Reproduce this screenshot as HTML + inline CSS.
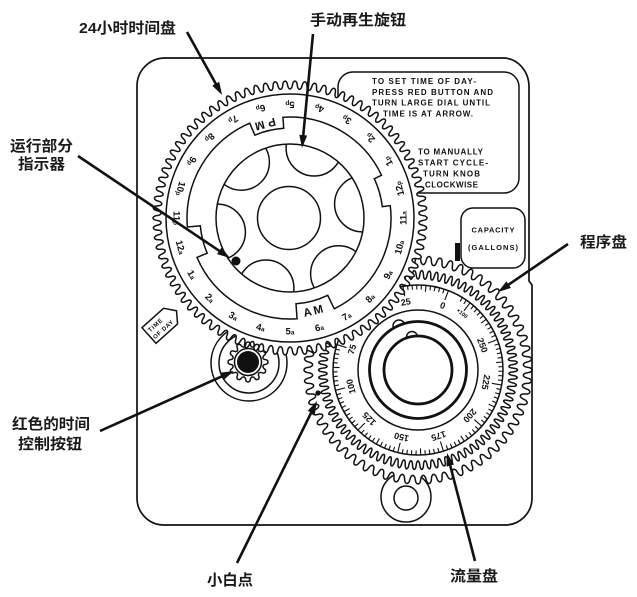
<!DOCTYPE html>
<html><head><meta charset="utf-8">
<style>
html,body{margin:0;padding:0;background:#fff;}
svg{display:block;}
.l{fill:none;stroke:#111;stroke-width:1.5;}
.lab{font-family:"Liberation Sans","Noto Sans CJK SC",sans-serif;font-weight:bold;font-size:15px;fill:#1a1a1a;}
.n{font-family:"Liberation Sans",sans-serif;font-weight:bold;font-size:9.5px;fill:#111;}
.f{font-family:"Liberation Sans",sans-serif;font-weight:bold;font-size:9px;fill:#111;}
.bx{font-family:"Liberation Sans",sans-serif;font-weight:bold;font-size:8px;fill:#111;}
</style></head><body>
<svg id="s" width="637" height="597" viewBox="0 0 637 597" xmlns="http://www.w3.org/2000/svg">
<defs>
<marker id="ah" viewBox="0 0 13 8" refX="9" refY="4" markerWidth="13" markerHeight="8" markerUnits="userSpaceOnUse" orient="auto"><path d="M0,0 L13,4 L0,8 Z" fill="#111"/></marker>
<clipPath id="kc"><circle cx="290" cy="218" r="74"/></clipPath>
</defs>
<rect width="637" height="597" fill="#fff"/>

<!-- instruction box -->
<rect x="338" y="72" width="181" height="121" rx="15" class="l"/>
<g class="bx">
<text x="372" y="84" textLength="104">TO SET TIME OF DAY-</text>
<text x="372" y="95" textLength="121">PRESS RED BUTTON AND</text>
<text x="372" y="105.5" textLength="118">TURN LARGE DIAL UNTIL</text>
<text x="383" y="116.5" textLength="90">TIME IS AT ARROW.</text>
<text x="418" y="154.5" textLength="65">TO MANUALLY</text>
<text x="418" y="165.5" textLength="70">START CYCLE-</text>
<text x="423" y="176.5" textLength="57">TURN KNOB</text>
<text x="425" y="187.5" textLength="53">CLOCKWISE</text>
</g>

<!-- red button housing arcs -->
<circle cx="249" cy="363" r="38" class="l"/>
<circle cx="249" cy="363" r="30" class="l"/>

<!-- bottom knob -->
<circle cx="406" cy="497" r="25" class="l"/>
<circle cx="406" cy="498" r="12" class="l"/>

<!-- program / flow gear -->
<path id="pg" class="l" style="fill:#fff"/>
<path id="pg2" class="l"/>
<circle cx="418" cy="370" r="85" class="l"/>
<path id="tk" stroke="#111" stroke-width="1.1" fill="none"/>
<g class="f" text-anchor="middle">
<text x="418" y="304" transform="rotate(21 418 370)">0</text>
<text x="418" y="304" transform="rotate(-10.2 418 370)">25</text>
<text x="418" y="304" transform="rotate(-72.6 418 370)">75</text>
<text x="418" y="304" transform="rotate(-103.8 418 370)">100</text>
<text x="418" y="304" transform="rotate(-135 418 370)">125</text>
<text x="418" y="304" transform="rotate(-166.2 418 370)">150</text>
<text x="418" y="304" transform="rotate(-197.4 418 370)">175</text>
<text x="418" y="304" transform="rotate(-228.6 418 370)">200</text>
<text x="418" y="304" transform="rotate(-259.8 418 370)">225</text>
<text x="418" y="304" transform="rotate(-291 418 370)">250</text>
<text x="418" y="300" transform="rotate(38 418 370)" style="font-size:5.5px">×100</text>
</g>
<circle cx="418" cy="370" r="60" class="l"/>
<circle cx="399" cy="326" r="6" class="l" style="fill:#fff"/>
<circle cx="418" cy="370" r="48.5" fill="#fff" stroke="#111" stroke-width="2.8"/>
<circle cx="412" cy="337" r="5.5" class="l" style="fill:#fff"/>
<circle cx="418" cy="370" r="34" fill="#fff" stroke="#111" stroke-width="2.8"/>

<!-- capacity box -->
<rect x="461" y="208" width="64" height="60" rx="12" fill="#fff" stroke="#111" stroke-width="1.5"/>
<text class="bx" x="493" y="232.5" text-anchor="middle" textLength="43" style="font-size:7.5px">CAPACITY</text>
<text class="bx" x="493" y="250" text-anchor="middle" textLength="50" style="font-size:7.5px">(GALLONS)</text>
<rect x="455" y="243" width="5" height="18" fill="#111"/>

<!-- big 24h gear -->
<path id="bg" class="l" style="fill:#fff"/>
<circle cx="290" cy="218" r="124" class="l"/>
<g class="n" text-anchor="middle">
<text x="290" y="334.5" transform="rotate(75 290 218)">12<tspan font-size="6.5">a</tspan></text>
<text x="290" y="334.5" transform="rotate(60 290 218)">1<tspan font-size="6.5">a</tspan></text>
<text x="290" y="334.5" transform="rotate(45 290 218)">2<tspan font-size="6.5">a</tspan></text>
<text x="290" y="334.5" transform="rotate(30 290 218)">3<tspan font-size="6.5">a</tspan></text>
<text x="290" y="334.5" transform="rotate(15 290 218)">4<tspan font-size="6.5">a</tspan></text>
<text x="290" y="334.5" transform="rotate(0 290 218)">5<tspan font-size="6.5">a</tspan></text>
<text x="290" y="334.5" transform="rotate(-15 290 218)">6<tspan font-size="6.5">a</tspan></text>
<text x="290" y="334.5" transform="rotate(-30 290 218)">7<tspan font-size="6.5">a</tspan></text>
<text x="290" y="334.5" transform="rotate(-45 290 218)">8<tspan font-size="6.5">a</tspan></text>
<text x="290" y="334.5" transform="rotate(-60 290 218)">9<tspan font-size="6.5">a</tspan></text>
<text x="290" y="334.5" transform="rotate(-75 290 218)">10<tspan font-size="6.5">a</tspan></text>
<text x="290" y="334.5" transform="rotate(-90 290 218)">11<tspan font-size="6.5">a</tspan></text>
<text x="290" y="334.5" transform="rotate(-105 290 218)">12<tspan font-size="6.5">p</tspan></text>
<text x="290" y="334.5" transform="rotate(-120 290 218)">1<tspan font-size="6.5">p</tspan></text>
<text x="290" y="334.5" transform="rotate(-135 290 218)">2<tspan font-size="6.5">p</tspan></text>
<text x="290" y="334.5" transform="rotate(-150 290 218)">3<tspan font-size="6.5">p</tspan></text>
<text x="290" y="334.5" transform="rotate(-165 290 218)">4<tspan font-size="6.5">p</tspan></text>
<text x="290" y="334.5" transform="rotate(-180 290 218)">5<tspan font-size="6.5">p</tspan></text>
<text x="290" y="334.5" transform="rotate(-195 290 218)">6<tspan font-size="6.5">p</tspan></text>
<text x="290" y="334.5" transform="rotate(-210 290 218)">7<tspan font-size="6.5">p</tspan></text>
<text x="290" y="334.5" transform="rotate(-225 290 218)">8<tspan font-size="6.5">p</tspan></text>
<text x="290" y="334.5" transform="rotate(-240 290 218)">9<tspan font-size="6.5">p</tspan></text>
<text x="290" y="334.5" transform="rotate(-255 290 218)">10<tspan font-size="6.5">p</tspan></text>
<text x="290" y="334.5" transform="rotate(-270 290 218)">11<tspan font-size="6.5">p</tspan></text>
<text x="290" y="317.5" transform="rotate(-14 290 218)" style="font-size:11.5px" textLength="20">AM</text>
<text x="290" y="319" transform="rotate(-194.7 290 218)" style="font-size:11.5px" textLength="21">PM</text>
</g>
<path id="ct" class="l"/>
<circle cx="290" cy="218" r="74" class="l"/>
<g clip-path="url(#kc)">
<circle cx="314.1" cy="148" r="28" class="l"/>
<circle cx="362.6" cy="203.9" r="28" class="l"/>
<circle cx="338.6" cy="273.8" r="28" class="l"/>
<circle cx="265.9" cy="288" r="28" class="l"/>
<circle cx="217.4" cy="232.1" r="28" class="l"/>
<circle cx="241.4" cy="162.2" r="28" class="l"/>
</g>
<circle cx="289" cy="218" r="31.5" class="l"/>
<circle cx="236" cy="261" r="4.5" fill="#111"/>

<!-- red button small gear -->
<path id="sg" class="l"/>
<circle cx="248" cy="362" r="13.5" class="l"/>
<circle cx="248" cy="362" r="11" fill="#111"/>

<!-- small white dot -->
<circle cx="318" cy="393" r="2.6" fill="#111"/>

<!-- time of day tag -->
<g transform="translate(149 335.5) rotate(-42)">
<polygon points="0,-10.5 29,-10.5 37,0 29,10.5 0,10.5" fill="#fff" stroke="#111" stroke-width="1.5"/>
<text x="3" y="-1.5" class="bx" style="font-size:6px" textLength="17">TIME</text>
<text x="2" y="7" class="bx" style="font-size:6px" textLength="25">OF DAY</text>
</g>

<!-- panel -->
<path d="M165,58 H503 A26,29 0 0 1 529,87 V281 L532,285 V498 A27,27 0 0 1 505,525 H164 A27,27 0 0 1 137,498 V86 A28,28 0 0 1 165,58 Z" fill="none" stroke="#111" stroke-width="1.7"/>

<!-- arrows -->
<g stroke="#111" stroke-width="2.6" marker-end="url(#ah)" fill="none">
<line x1="187" y1="32" x2="220.1" y2="91.5"/>
<line x1="313" y1="34" x2="302.4" y2="144"/>
<line x1="78" y1="156" x2="226.7" y2="255.8"/>
<line x1="568" y1="244" x2="501.3" y2="289.7"/>
<line x1="100" y1="431" x2="230.3" y2="372.6"/>
<line x1="237" y1="563" x2="315.2" y2="404.6"/>
<line x1="475" y1="561" x2="448" y2="456.9"/>
</g>

<!-- labels -->
<text class="lab" x="79" y="33" textLength="97" lengthAdjust="spacingAndGlyphs">24小时时间盘</text>
<text class="lab" x="310" y="25" textLength="96" lengthAdjust="spacingAndGlyphs">手动再生旋钮</text>
<text class="lab" x="10" y="151" textLength="63" lengthAdjust="spacingAndGlyphs">运行部分</text>
<text class="lab" x="18" y="169" textLength="47" lengthAdjust="spacingAndGlyphs">指示器</text>
<text class="lab" x="580" y="247" textLength="47" lengthAdjust="spacingAndGlyphs">程序盘</text>
<text class="lab" x="12" y="429" textLength="78" lengthAdjust="spacingAndGlyphs">红色的时间</text>
<text class="lab" x="18" y="449" textLength="64" lengthAdjust="spacingAndGlyphs">控制按钮</text>
<text class="lab" x="207" y="585" textLength="46" lengthAdjust="spacingAndGlyphs">小白点</text>
<text class="lab" x="450" y="581" textLength="48" lengthAdjust="spacingAndGlyphs">流量盘</text>
</svg>
<script>
(function(){
function pt(cx,cy,r,a){a=a*Math.PI/180;return (cx+r*Math.cos(a)).toFixed(2)+" "+(cy+r*Math.sin(a)).toFixed(2);}
function gear(cx,cy,rt,rr,n,ph){
 var d="",N=n*24,m=(rt+rr)/2,h=(rt-rr)/2;
 for(var i=0;i<=N;i++){
  var a=ph+i*360/N;
  var c=Math.cos(n*(a-ph)*Math.PI/180);
  var f=(c<0?-1:1)*Math.pow(Math.abs(c),0.55);
  d+=(i?"L":"M")+pt(cx,cy,m+h*f,a);
 }
 return d+"Z";
}
function set(id,d){document.getElementById(id).setAttribute("d",d);}
set("bg",gear(290,218,137,129,86,0));
set("pg",gear(418,370,114,105.5,64,0));
set("pg2",gear(418,370,99.5,91,82,0));
set("sg",gear(248,362,20,15.5,12,0));
var segs=[[-7,64,101],[64,86,86],[86,157,101],[157,175,90],[175,247,103],[247,266,90],[266,335,101],[335,353,93]];
var d="";
segs.forEach(function(s,i){d+=(i?"L":"M")+pt(290,218,s[2],s[0])+"A"+s[2]+" "+s[2]+" 0 "+(s[1]-s[0]>180?1:0)+" 1 "+pt(290,218,s[2],s[1]);});
set("ct",d+"Z");
var td="";
for(var v=0;v<=280;v+=2.5){
 var a=-69-31.2*v/25,r2;
 if(v%25===0) r2=75; else if(v%12.5===0) r2=78.5; else r2=80.5;
 td+="M"+pt(418,370,85,a)+"L"+pt(418,370,r2,a);
}
set("tk",td);
})();
</script>
</body></html>
